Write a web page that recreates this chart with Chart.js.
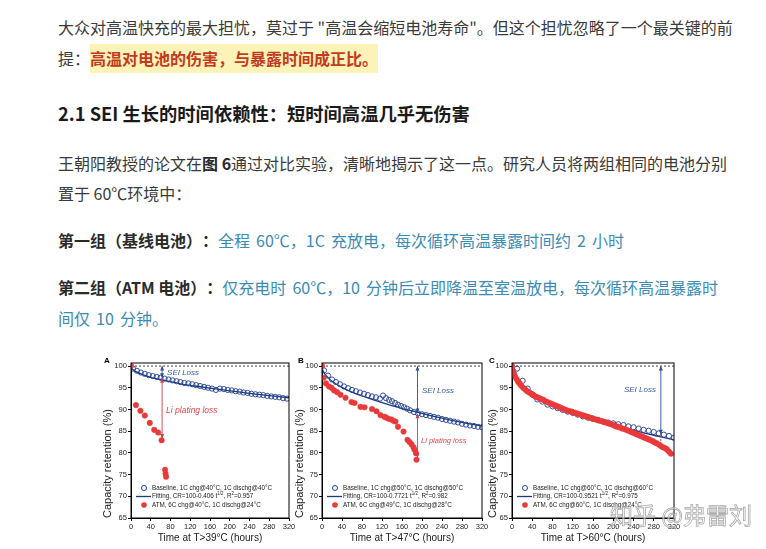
<!DOCTYPE html>
<html><head><meta charset="utf-8">
<script src="https://cdn.jsdelivr.net/npm/chart.js@4.4.1/dist/chart.umd.min.js"></script>
<style>
html,body{margin:0;padding:0;background:#fff;width:766px;height:549px;overflow:hidden;}
body{position:relative;font-family:"Noto Sans CJK SC","Noto Sans",sans-serif;color:#3a3a3a;}
.ln{position:absolute;left:58px;font-size:16px;line-height:20px;white-space:nowrap;text-spacing-trim:space-all;}
.hl{background:#fcf3b8;color:#c23a1f;font-weight:bold;padding:2px 0 3px 0;}
.bd{font-weight:bold;color:#2a2a2a;}
.tl{color:#3b8cb3;word-spacing:2.5px;}
.hd{font-size:18.3px;font-weight:bold;color:#1a1a1a;}
canvas{position:absolute;}
.wm{position:absolute;left:610px;top:501px;font-size:23px;line-height:26px;color:rgba(255,255,255,0.55);-webkit-text-stroke:0.8px rgba(140,140,140,0.75);white-space:nowrap;z-index:5;font-family:"Noto Sans CJK SC",sans-serif;}
</style></head>
<body>
<div class="ln" style="top:17px">大众对高温快充的最大担忧，莫过于 "高温会缩短电池寿命"。但这个担忧忽略了一个最关键的前</div>
<div class="ln" style="top:48px">提：<span class="hl">高温对电池的伤害，与暴露时间成正比。</span></div>
<div class="ln hd" style="top:103px">2.1 SEI 生长的时间依赖性：短时间高温几乎无伤害</div>
<div class="ln" style="top:153px">王朝阳教授的论文在<b class="bd">图 6</b>通过对比实验，清晰地揭示了这一点。研究人员将两组相同的电池分别</div>
<div class="ln" style="top:183px">置于 60℃环境中：</div>
<div class="ln" style="top:230px"><span class="bd">第一组（基线电池）：</span><span class="tl">全程 60℃，1C 充放电，每次循环高温暴露时间约 2 小时</span></div>
<div class="ln" style="top:277px"><span class="bd">第二组（ATM 电池）：</span><span class="tl">仅充电时 60℃，10 分钟后立即降温至室温放电，每次循环高温暴露时</span></div>
<div class="ln tl" style="top:308px">间仅 10 分钟。</div>

<canvas id="cA" width="212" height="197" style="left:97px;top:352px"></canvas>
<canvas id="cB" width="212" height="197" style="left:287px;top:352px"></canvas>
<canvas id="cC" width="212" height="197" style="left:478px;top:352px"></canvas>
<div class="wm">知乎 @弗雷刘</div>

<script>
// ---------- data ----------
const X_TICKS = [0,40,80,120,160,200,240,280,320];
const Y_TICKS = [65,70,75,80,85,90,95,100];
const REF_LEVEL = 100;

// Panel A
const baseA_t = [4,12,20,28,36,44,52,60,68,76,84,92,100,108,116,124,132,140,148,156,164,172,180,188,196,204,212,220,228,236,244,252,260,268,276,284,292,300,308,316];
const baseA_v = [99.4,98.9,98.5,98.2,97.9,97.7,97.5,97.3,97.1,96.9,96.7,96.5,96.3,96.1,96.0,95.8,95.6,95.4,95.2,95.0,94.8,94.5,94.8,94.7,94.5,94.4,94.2,94.1,93.9,93.8,93.6,93.5,93.4,93.3,93.1,93.0,92.9,92.8,92.6,92.5];
const fitA_t = [0,1,3,6,10,20,40,60,80,100,130,160,200,240,280,320];
const fitA_v = [100,99.6,99.3,99.0,98.7,98.2,97.4,96.9,96.4,95.9,95.4,94.9,94.3,93.7,93.2,92.7];
const atmA_t = [0,10,19,28,38,47,55,62,69,70,71];
const atmA_v = [100,91.0,89.7,88.6,86.9,85.3,84.7,82.9,76.1,75.2,74.5];

// Panel B
const baseB_t = [4,12,20,28,36,44,52,60,68,76,84,92,100,108,116,122,128,134,140,146,152,158,164,170,176,184,192,200,208,216,224,232,240,248,256,264,272,280,288,296,304,312,320];
const baseB_v = [99.0,97.8,96.9,96.3,95.8,95.3,94.9,94.5,94.2,93.9,93.6,93.3,93.0,92.8,92.5,93.2,92.6,92.2,91.9,91.5,91.1,90.8,90.5,90.2,89.8,89.4,89.1,88.9,88.7,88.5,88.3,88.1,87.8,87.6,87.4,87.2,87.0,86.7,86.5,86.3,86.2,86.0,85.9];
const fitB_t = [0,1,3,6,10,20,40,60,80,100,130,160,190,220,260,290,320];
const fitB_v = [100,99.2,98.7,98.1,97.6,96.5,95.1,94.0,93.1,92.3,91.2,90.2,89.4,88.5,87.5,86.8,86.2];
const atmB_t = [0,3,8,14,19,24,30,37,47,59,65,77,85,100,109,117,125,129,134,139,143,147,152,163,171,175,179,183,185,188,189];
const atmB_v = [100,97.3,96.0,95.3,95.0,94.4,94.0,93.4,92.7,91.7,91.5,90.6,90.5,90.1,89.6,88.7,88.3,88.1,87.8,87.7,87.4,87.2,86.0,84.9,83.0,82.5,82.0,81.3,80.7,79.9,78.4];

// Panel C
const baseC_t = [10,21,31,41,50,60,70,80,90,100,110,120,130,140,150,160,170,180,190,200,210,220,230,240,250,260,270,280,290,300,310,320];
const baseC_v = [99.4,96.6,94.8,93.4,92.3,91.8,91.1,90.7,90.3,89.9,89.5,89.2,88.8,88.4,88.1,87.8,87.5,87.2,87.0,86.8,86.6,86.4,86.1,85.9,85.6,85.3,85.1,84.8,84.5,84.2,83.9,83.5];
const fitC_t = [0,1,3,6,10,20,40,60,80,100,130,160,190,220,260,290,320];
const fitC_v = [100,99.0,98.4,97.7,97.0,95.7,94.0,92.6,91.5,90.5,89.1,88.0,86.9,85.9,84.6,83.8,83.0];
const atmC_t = [0,2,4,6,9,12,15,18,22,26,30,34,38,42,46,50,54,58,62,66,70,74,78,82,86,90,94,98,102,106,110,114,118,122,126,130,134,138,142,146,150,154,158,162,166,170,174,178,182,186,190,194,198,202,206,210,214,218,222,226,230,234,238,242,246,250,254,258,262,266,270,274,278,282,286,290,294,298,302,306,310,314];
const atmC_v = [100,98.9,98.2,97.6,97.0,96.4,96.0,95.5,95.0,94.6,94.2,93.9,93.6,93.3,93.0,92.8,92.6,92.4,92.2,91.9,91.7,91.5,91.3,91.1,90.9,90.7,90.5,90.3,90.1,89.9,89.7,89.6,89.5,89.3,89.2,89.0,88.9,88.7,88.6,88.4,88.3,88.1,88.0,87.8,87.7,87.6,87.4,87.3,87.1,87.0,86.8,86.7,86.5,86.3,86.1,86.0,85.8,85.6,85.5,85.3,85.1,84.9,84.7,84.5,84.3,84.1,83.9,83.7,83.5,83.3,83.1,82.9,82.7,82.4,82.2,81.9,81.6,81.3,81.1,80.8,80.3,79.8];

// labels
const labelsA = ['Baseline, 1C chg@40°C, 1C dischg@40°C','Fitting, CR=100-0.406 t^{1/2}, R^{2}=0.957','ATM, 6C chg@40°C, 1C dischg@24°C'];
const labelsB = ['Baseline, 1C chg@50°C, 1C dischg@50°C','Fitting, CR=100-0.7721 t^{1/2}, R^{2}=0.982','ATM, 6C chg@49°C, 1C dischg@28°C'];
const labelsC = ['Baseline, 1C chg@60°C, 1C dischg@60°C','Fitting, CR=100-0.9521 t^{1/2}, R^{2}=0.975','ATM, 6C chg@60°C, 1C dischg@24°C'];
const xTitles = ['Time at T>39°C (hours)','Time at T>47°C (hours)','Time at T>60°C (hours)'];
const yTitle = 'Capacity retention (%)';

// annotation arrows [hours, from, to, kind, dashed]
const arrowsA = [[63,100,97.3,'sei',0],[63,97.2,83.3,'li',0]];
const arrowsB = [[191,100,89.2,'sei',0],[191,89.0,78.8,'li',0]];
const arrowsC = [[294,100,84.3,'sei',0],[294,84.0,81.3,'li',1]];
// annotation texts [hours, value, text, kind, size]
const notesA = [[73,98.5,'SEI Loss','sei',8],[71,89.7,'Li plating loss','li',8.5]];
const notesB = [[200,94.4,'SEI Loss','sei',8],[198,82.7,'Li plating loss','li',7.5]];
const notesC = [[221,94.6,'SEI Loss','sei',8]];

// ---------- styles ----------
const FF = '"Liberation Sans", Arial, sans-serif';
const NAVY = '#23408e';
const FITC = '#1c3a82';
const RED = '#e8393b';
const KIND = {sei:'#2f4d8f', li:'#c8404a'};
const KIND_TXT = {sei:'#3d5aa0', li:'#e0474a'};

function pts(t,v){ return t.map((x,i)=>({x:x,y:v[i]})); }

function richText(ctx, str, x, y, size){
  const parts = str.split(/(\^\{[^}]*\})/);
  let cx = x;
  parts.forEach(p=>{
    if(!p) return;
    if(p.startsWith('^{')){
      const s = p.slice(2,-1);
      ctx.font = (size*0.7)+'px '+FF;
      ctx.fillText(s, cx, y - size*0.38);
      cx += ctx.measureText(s).width;
    } else {
      ctx.font = size+'px '+FF;
      ctx.fillText(p, cx, y);
      cx += ctx.measureText(p).width;
    }
  });
}

function head(ctx, x, y, dir){
  ctx.beginPath();
  ctx.moveTo(x, y);
  ctx.lineTo(x-2, y - dir*4.5);
  ctx.lineTo(x+2, y - dir*4.5);
  ctx.closePath();
  ctx.fill();
}

function decor(c){
  return {
    id:'decor',
    afterDraw(chart){
      const ctx = chart.ctx, a = chart.chartArea, xs = chart.scales.x, ys = chart.scales.y;
      ctx.save();
      ctx.strokeStyle = '#000'; ctx.lineWidth = 1;
      ctx.strokeRect(a.left, a.top, a.right-a.left, a.bottom-a.top);
      c.arrows.forEach(r=>{
        const px = xs.getPixelForValue(r[0]);
        const y1 = ys.getPixelForValue(r[1]), y2 = ys.getPixelForValue(r[2]);
        ctx.strokeStyle = KIND[r[3]]; ctx.fillStyle = KIND[r[3]];
        ctx.lineWidth = 0.9;
        ctx.setLineDash(r[4] ? [2,1.5] : []);
        ctx.beginPath(); ctx.moveTo(px, y1); ctx.lineTo(px, y2); ctx.stroke();
        ctx.setLineDash([]);
        if(!r[4]){ head(ctx, px, y1, -1); head(ctx, px, y2, 1); }
      });
      c.notes.forEach(n=>{
        ctx.fillStyle = KIND_TXT[n[3]];
        ctx.font = 'italic '+n[4]+'px '+FF;
        ctx.textBaseline = 'middle'; ctx.textAlign = 'left';
        ctx.fillText(n[2], xs.getPixelForValue(n[0]), ys.getPixelForValue(n[1]));
      });
      const rows = [a.bottom-30, a.bottom-21.5, a.bottom-13];
      ctx.textBaseline = 'middle'; ctx.textAlign = 'left';
      ctx.strokeStyle = NAVY; ctx.lineWidth = 1;
      ctx.beginPath(); ctx.arc(a.left+13, rows[0], 2.5, 0, Math.PI*2); ctx.stroke();
      ctx.strokeStyle = FITC; ctx.lineWidth = 1.3;
      ctx.beginPath(); ctx.moveTo(a.left+5, rows[1]); ctx.lineTo(a.left+20, rows[1]); ctx.stroke();
      ctx.fillStyle = RED;
      ctx.beginPath(); ctx.arc(a.left+13, rows[2], 2.8, 0, Math.PI*2); ctx.fill();
      ctx.fillStyle = '#222';
      c.labels.forEach((l,i)=> richText(ctx, l, a.left+21, rows[i], 6.3));
      ctx.fillStyle = '#000';
      ctx.font = 'bold 8px '+FF;
      ctx.fillText(c.letter, a.left - c.letterDx, a.top - 2);
      ctx.restore();
    }
  };
}

function makeChart(id, c){
  return new Chart(document.getElementById(id), {
    type:'scatter',
    data:{datasets:[
      {label:c.labels[2], data:pts(c.atmT,c.atmV), pointRadius:2.8, pointBackgroundColor:RED, pointBorderColor:RED, pointBorderWidth:0.4, order:0},
      {label:c.labels[0], data:pts(c.baseT,c.baseV), pointRadius:2.6, pointBackgroundColor:'rgba(255,255,255,0)', pointBorderColor:NAVY, pointBorderWidth:0.9, order:1},
      {label:c.labels[1], type:'line', data:pts(c.fitT,c.fitV), borderColor:FITC, borderWidth:1.3, pointRadius:0, cubicInterpolationMode:'monotone', fill:false, order:2},
      {label:'ref', type:'line', data:[{x:X_TICKS[0],y:REF_LEVEL},{x:X_TICKS[X_TICKS.length-1],y:REF_LEVEL}], borderColor:'#111', borderWidth:0.8, borderDash:[2,2], pointRadius:0, fill:false, order:3}
    ]},
    options:{
      responsive:false, animation:false, events:[], devicePixelRatio:1,
      layout:{padding:{left:c.padL, right:c.padR, top:11, bottom:0}},
      plugins:{legend:{display:false}, tooltip:{enabled:false}},
      scales:{
        x:{type:'linear', min:0, max:320,
          afterBuildTicks:s=>{ s.ticks = X_TICKS.map(v=>({value:v})); },
          afterFit:s=>{ s.height = 31; },
          ticks:{font:{family:FF,size:7.5}, color:'#222', padding:1, maxRotation:0, autoSkip:false},
          grid:{drawOnChartArea:false, tickLength:3, color:'#000', tickColor:'#000'},
          border:{color:'#000', width:1},
          title:{display:true, text:c.xTitle, font:{family:FF,size:10}, color:'#222', padding:{top:0,bottom:5}}
        },
        y:{type:'linear', min:65, max:100.7,
          afterBuildTicks:s=>{ s.ticks = Y_TICKS.map(v=>({value:v})); },
          afterFit:s=>{ s.width = c.yW; },
          ticks:{font:{family:FF,size:7.6}, color:'#222', padding:1, autoSkip:false},
          grid:{drawOnChartArea:false, tickLength:3, color:'#000', tickColor:'#000'},
          border:{color:'#000', width:1},
          title:{display:true, text:yTitle, align:'start', font:{family:FF,size:11}, color:'#222', padding:0}
        }
      }
    },
    plugins:[decor(c)]
  });
}

makeChart('cA', {letter:'A', letterDx:27, padL:4, yW:30, padR:20,
  baseT:baseA_t, baseV:baseA_v, fitT:fitA_t, fitV:fitA_v, atmT:atmA_t, atmV:atmA_v,
  labels:labelsA, xTitle:xTitles[0], arrows:arrowsA, notes:notesA});
makeChart('cB', {letter:'B', letterDx:24, padL:6, yW:29, padR:17,
  baseT:baseB_t, baseV:baseB_v, fitT:fitB_t, fitV:fitB_v, atmT:atmB_t, atmV:atmB_v,
  labels:labelsB, xTitle:xTitles[1], arrows:arrowsB, notes:notesB});
makeChart('cC', {letter:'C', letterDx:23, padL:8, yW:26, padR:16,
  baseT:baseC_t, baseV:baseC_v, fitT:fitC_t, fitV:fitC_v, atmT:atmC_t, atmV:atmC_v,
  labels:labelsC, xTitle:xTitles[2], arrows:arrowsC, notes:notesC});
</script>
</body></html>
